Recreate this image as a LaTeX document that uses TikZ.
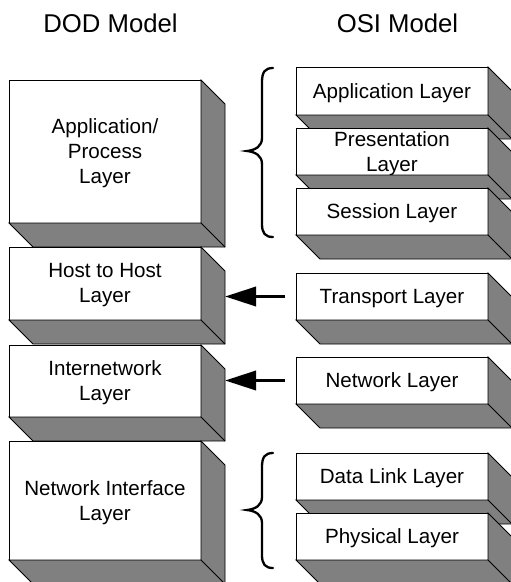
\documentclass[tikz,border=0pt]{standalone}
\usepackage{fontspec}
\setmainfont{Liberation Sans}
\usetikzlibrary{arrows.meta}
\definecolor{sidegray}{HTML}{808080}

% one layer: front face as a node, then the extruded side and bottom faces
% #1 name, #2 x, #3 y (top left), #4 width, #5 height, #6 text
\newcommand\layerblock[6]{%
  \node[front, minimum width=#4pt, minimum height=#5pt] (#1) at (#2,#3) {};
  \node[caption] (#1-text) at ([shift={(0,2)}]#1.center) {#6};
  \draw[depth] (#1.north east) -- ++(24,24) |- ([shift={(24,24)}]#1.south west)
      -- (#1.south west) -- (#1.south east) -- cycle;
  \draw[edge] (#1.south east) -- ++(24,24);
}

\begin{document}
\begin{tikzpicture}[x=1pt, y=-1pt,
  front/.style={draw=black, fill=white, line width=0.9pt, inner sep=0pt, outer sep=0pt,
    anchor=north west},
  caption/.style={inner sep=0pt, align=center, font=\fontsize{20.6}{25}\selectfont},
  depth/.style={draw=black, fill=sidegray, line width=0.9pt, line join=miter},
  edge/.style={draw=black, line width=0.9pt},
  header/.style={font=\fontsize{25.7}{30}\selectfont, inner sep=0pt},
  brace/.style={draw=black, line width=2.3pt, line cap=round},
  pointer/.style={draw=black, line width=3.5pt, shorten <=11pt,
    -{Triangle[length=31pt, width=19pt]}}]
\useasboundingbox (0,0) rectangle (511,582);

% column headings
\node[header] (dod) at (110.5,23.5) {DOD Model};
\node[header] (osi) at (397.5,23.5) {OSI Model};

% DOD model stack
\layerblock{app}{9}{80}{192}{143}{Application/\\Process\\Layer}
\layerblock{host}{9}{247}{192}{73}{Host to Host\\Layer}
\layerblock{inet}{9}{345}{192}{72}{Internetwork\\Layer}
\layerblock{nif}{9}{441}{192}{119}{Network Interface\\Layer}

% OSI model stack
\layerblock{apl}{296}{67}{192}{48}{Application Layer}
\layerblock{pres}{296}{128}{192}{47}{Presentation\\Layer}
\layerblock{sess}{296}{188}{192}{47}{Session Layer}
\layerblock{trans}{296}{273}{192}{47}{Transport Layer}
\layerblock{netw}{296}{357}{192}{47}{Network Layer}
\layerblock{dl}{296}{453}{192}{47}{Data Link Layer}
\layerblock{phy}{296}{513}{192}{47}{Physical Layer}

% side faces of the DOD blocks, where the pointers land
\coordinate (hostside) at ([shift={(24,0)}]host.east);
\coordinate (inetside) at ([shift={(24,0)}]inet.east);

% one-to-one mappings
\draw[pointer] (trans.west) -- (trans.west -| hostside);
\draw[pointer] (netw.west) -- (netw.west -| inetside);

% many-to-one groupings
\draw[brace] (273,68) .. controls (265,68) and (262,72) .. (262,82) -- (262,138)
  .. controls (262,146) and (256,150) .. (247,151)
  .. controls (256,152) and (262,156) .. (262,164) -- (262,224)
  .. controls (262,233) and (265,237) .. (273,237);
\draw[brace] (273,453) .. controls (265,453) and (262,457) .. (262,467) -- (262,497)
  .. controls (262,505) and (256,509) .. (247,510)
  .. controls (256,511) and (262,515) .. (262,523) -- (262,555)
  .. controls (262,564) and (265,568) .. (273,568);
\end{tikzpicture}
\end{document}
